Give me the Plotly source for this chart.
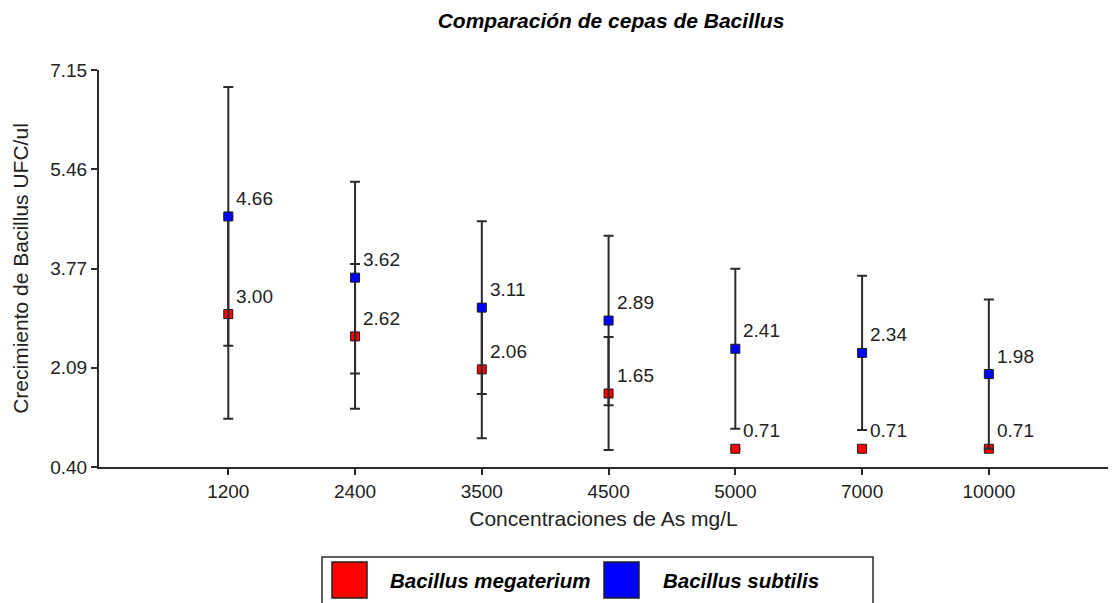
import plotly.graph_objects as go

# ---------------- data ----------------
categories = ["1200", "2400", "3500", "4500", "5000", "7000", "10000"]
megaterium = [3.00, 2.62, 2.06, 1.65, 0.71, 0.71, 0.71]
megaterium_err_plus = [1.66, 1.23, 1.05, 0.96, 0.0, 0.0, 0.0]
megaterium_err_minus = [1.78, 1.23, 1.17, 0.96, 0.0, 0.0, 0.0]
subtilis = [4.66, 3.62, 3.11, 2.89, 2.41, 2.34, 1.98]
subtilis_err = [2.20, 1.63, 1.47, 1.44, 1.36, 1.31, 1.27]
y_ticks = [0.40, 2.09, 3.77, 5.46, 7.15]
y_tick_labels = ["0.40", "2.09", "3.77", "5.46", "7.15"]
series_names = ["Bacillus megaterium", "Bacillus subtilis"]
series_colors = ["#FF0000", "#0000FF"]

W, H = 1119, 603
L, R, T, B = 99, 11, 70, 136
FONT = "Liberation Sans, Arial, sans-serif"
AXC = "#2b2b2b"


def px_x(px):
    return (px - L) / (W - L - R)


def px_y(py):
    return (H - B - py) / (H - T - B)


fig = go.Figure()
for vals, eplus, eminus, name, col in [
    (megaterium, megaterium_err_plus, megaterium_err_minus, series_names[0], series_colors[0]),
    (subtilis, subtilis_err, subtilis_err, series_names[1], series_colors[1]),
]:
    fig.add_trace(go.Scatter(
        x=categories, y=vals, mode="markers", name=name, showlegend=False,
        marker=dict(symbol="square", size=9, color=col,
                    line=dict(width=1, color="#1a1a1a")),
        error_y=dict(type="data", symmetric=False, array=eplus, arrayminus=eminus,
                     visible=True, color=AXC, thickness=2, width=5),
        cliponaxis=False,
    ))

annotations = []
for vals in (megaterium, subtilis):
    for i, v in enumerate(vals):
        annotations.append(dict(
            x=i, y=v, xref="x", yref="y", text=f"{v:.2f}", showarrow=False,
            xanchor="left", yanchor="middle", xshift=6, yshift=18,
            font=dict(family=FONT, size=19, color="#222222"),
        ))

# legend drawn manually
shapes = [
    dict(type="rect", xref="paper", yref="paper",
         x0=px_x(322), x1=px_x(873), y0=px_y(557), y1=px_y(612),
         line=dict(color=AXC, width=1.5), fillcolor="white", layer="above"),
    dict(type="rect", xref="paper", yref="paper",
         x0=px_x(332), x1=px_x(367), y0=px_y(562), y1=px_y(598),
         line=dict(color="#222222", width=1.5), fillcolor=series_colors[0], layer="above"),
    dict(type="rect", xref="paper", yref="paper",
         x0=px_x(604), x1=px_x(639), y0=px_y(562), y1=px_y(598),
         line=dict(color="#222222", width=1.5), fillcolor=series_colors[1], layer="above"),
]
annotations.append(dict(
    x=px_x(388), y=px_y(580), xref="paper", yref="paper",
    text="<b><i>" + series_names[0] + "</i></b>", showarrow=False,
    xanchor="left", yanchor="middle",
    font=dict(family=FONT, size=20.5, color="#000000")))
annotations.append(dict(
    x=px_x(661), y=px_y(580), xref="paper", yref="paper",
    text="<b><i>" + series_names[1] + "</i></b>", showarrow=False,
    xanchor="left", yanchor="middle",
    font=dict(family=FONT, size=20.5, color="#000000")))

fig.update_layout(
    width=W, height=H,
    margin=dict(l=L, r=R, t=T, b=B),
    paper_bgcolor="white", plot_bgcolor="white",
    title=dict(text="<b><i>Comparación de cepas de Bacillus</i></b>",
               x=611 / W, xref="container", xanchor="center",
               y=1 - 21 / H, yref="container", yanchor="middle",
               font=dict(family=FONT, size=21, color="#000000")),
    xaxis=dict(
        type="category", range=[-1.02, 6.94],
        showline=True, linecolor=AXC, linewidth=2, mirror=False,
        showgrid=False, zeroline=False,
        ticks="outside", ticklen=6, tickwidth=2, tickcolor=AXC,
        tickfont=dict(family=FONT, size=19, color="#222222"),
        title=dict(text="Concentraciones de As mg/L", standoff=11,
                   font=dict(family=FONT, size=21, color="#222222")),
        automargin=False,
    ),
    yaxis=dict(
        range=[y_ticks[0], y_ticks[-1]],
        tickmode="array", tickvals=y_ticks, ticktext=y_tick_labels,
        showline=True, linecolor=AXC, linewidth=2, mirror=False,
        showgrid=False, zeroline=False,
        ticks="outside", ticklen=6, tickwidth=2, tickcolor=AXC,
        tickfont=dict(family=FONT, size=19, color="#222222"),
        title=dict(text="Crecimiento de Bacillus UFC/ul", standoff=16,
                   font=dict(family=FONT, size=21, color="#222222")),
        automargin=False,
    ),
    shapes=shapes,
    annotations=annotations,
)

fig.write_html("out.html")
